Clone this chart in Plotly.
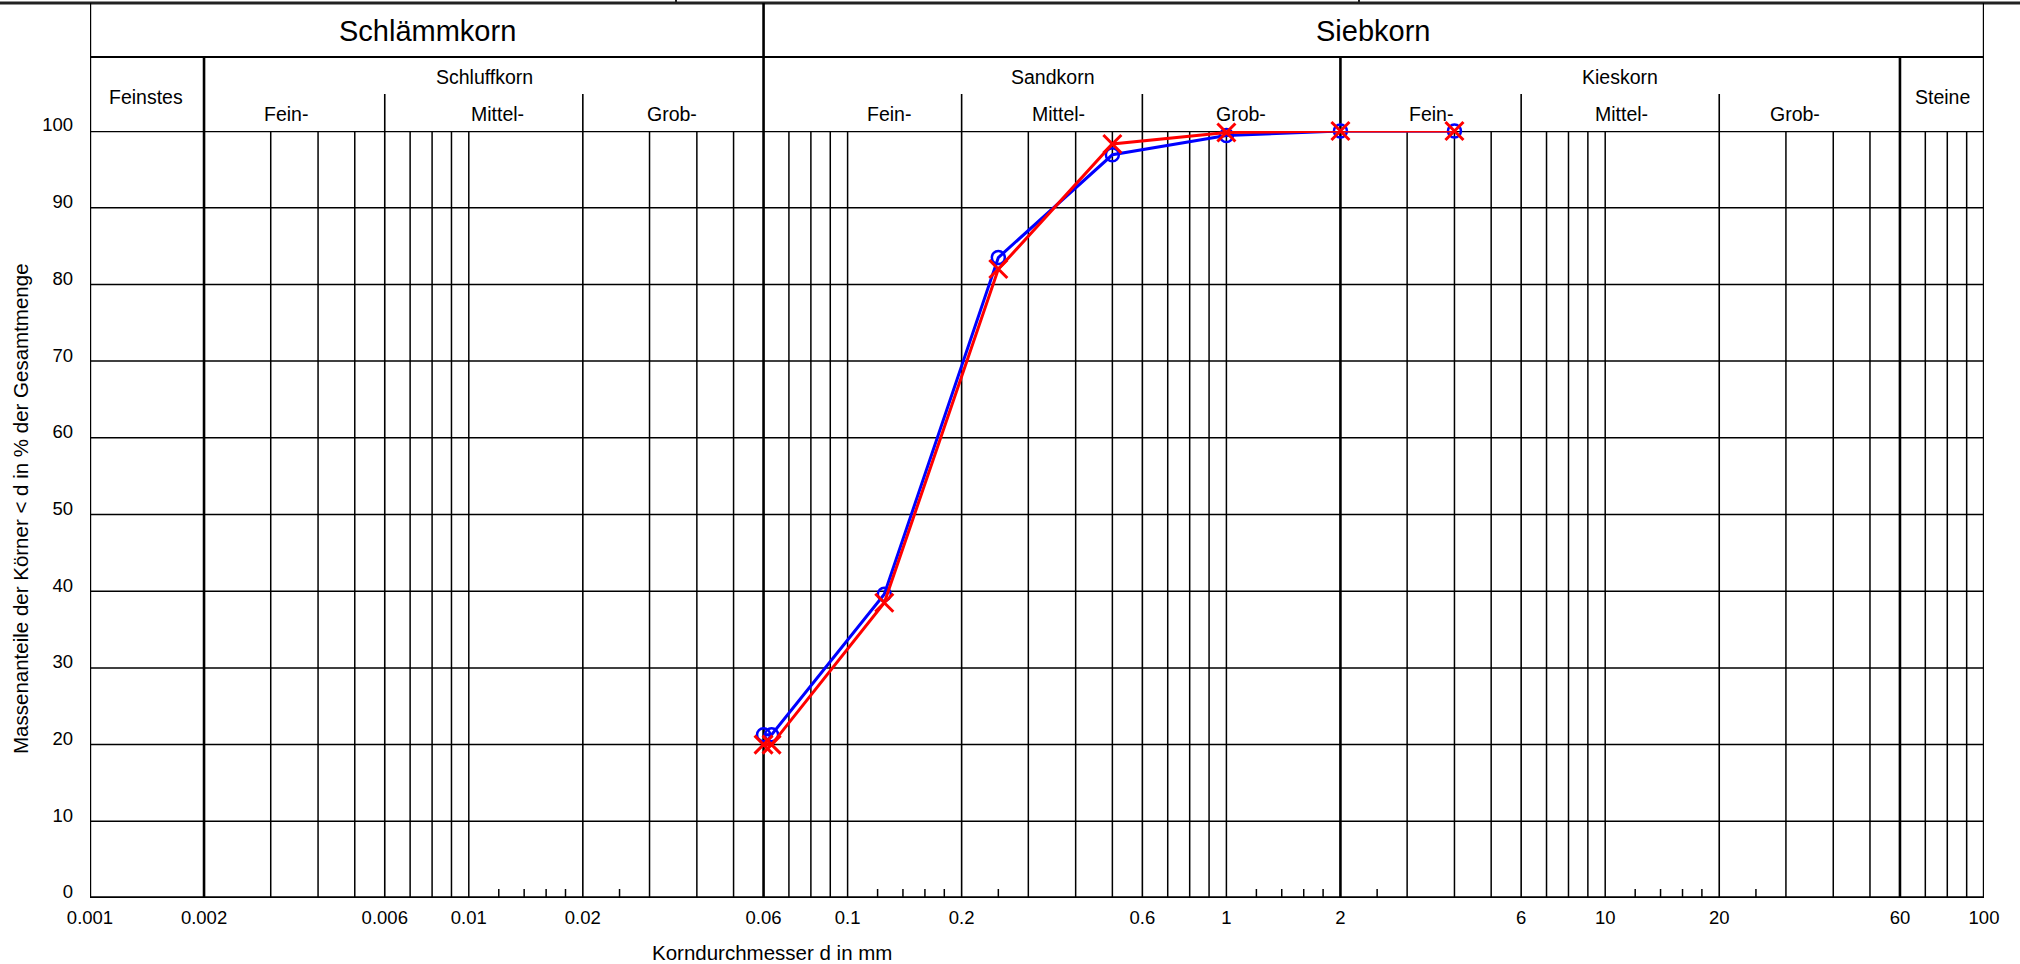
import math
import plotly.graph_objects as go

# ---------------- data ----------------
sieve_d = [0.06, 0.063, 0.125, 0.25, 0.5, 1.0, 2.0, 4.0]
blue_pass = [21.3, 21.3, 39.6, 83.5, 96.9, 99.4, 100.0, 100.0]
red_pass = [20.0, 20.0, 38.5, 82.0, 98.3, 99.8, 100.0, 100.0]

x_tick_vals = [0.001, 0.002, 0.006, 0.01, 0.02, 0.06, 0.1, 0.2, 0.6, 1, 2, 6, 10, 20, 60, 100]
x_tick_text = ["0.001", "0.002", "0.006", "0.01", "0.02", "0.06", "0.1", "0.2", "0.6",
               "1", "2", "6", "10", "20", "60", "100"]
y_tick_vals = [0, 10, 20, 30, 40, 50, 60, 70, 80, 90, 100]

grid_major = [0.002, 0.06, 2, 60]
grid_sub = [0.006, 0.02, 0.2, 0.6, 6, 20]
grid_minor = [0.003, 0.004, 0.005, 0.007, 0.008, 0.009, 0.01,
              0.03, 0.04, 0.05, 0.07, 0.08, 0.09, 0.1,
              0.3, 0.4, 0.5, 0.7, 0.8, 0.9, 1,
              3, 4, 5, 7, 8, 9, 10,
              30, 40, 50, 70, 80, 90]
short_ticks = [0.012, 0.014, 0.016, 0.018, 0.025,
               0.12, 0.14, 0.16, 0.18, 0.25,
               1.2, 1.4, 1.6, 1.8, 2.5,
               12, 14, 16, 18, 25]

main_groups = ["Schlämmkorn", "Siebkorn"]
soil_groups = ["Feinstes", "Schluffkorn", "Sandkorn", "Kieskorn", "Steine"]
sub_groups = ["Fein-", "Mittel-", "Grob-", "Fein-", "Mittel-", "Grob-", "Fein-", "Mittel-", "Grob-"]

# ---------------- layout geometry (page pixels) ----------------
W, H = 2020, 964
RL, RR, RT, RB = 90, 1984, 131, 898   # plot area
PW, PH = RR - RL, RB - RT
XMIN, XMAX = 0.001, 100
FONT = "Arial, Liberation Sans, sans-serif"


def py(p):
    """page pixel row -> paper y"""
    return (RB - p) / PH


def px(p):
    """page pixel column -> paper x"""
    return (p - RL) / PW


def d_at(p):
    """page pixel column -> grain size on the log axis"""
    return 10 ** (math.log10(XMIN) + (p - RL) / PW * (math.log10(XMAX) - math.log10(XMIN)))


shapes = []


def vline(v, ytop_px, width):
    shapes.append(dict(type="line", xref="x", yref="paper", x0=v, x1=v,
                       y0=py(RB), y1=py(ytop_px), line=dict(color="black", width=width),
                       layer="below"))


# top strip line and remnants of table above
shapes.append(dict(type="line", xref="paper", yref="paper", x0=px(0), x1=px(W),
                   y0=py(3), y1=py(3), line=dict(color="#222", width=3), layer="below"))
for tp in (676, 1359):
    shapes.append(dict(type="line", xref="paper", yref="paper", x0=px(tp), x1=px(tp),
                       y0=py(0), y1=py(3), line=dict(color="#222", width=2), layer="below"))

# vertical lines
vline(XMIN, 3, 2.4)
vline(XMAX, 3, 2.4)
vline(0.06, 3, 2.6)
for v in grid_major:
    if v != 0.06:
        vline(v, 57, 2.6)
for v in grid_sub:
    vline(v, 94, 1.6)
for v in grid_minor:
    vline(v, RT, 1.5)

# header horizontal line
shapes.append(dict(type="line", xref="x", yref="paper", x0=XMIN, x1=XMAX,
                   y0=py(57), y1=py(57), line=dict(color="black", width=2), layer="below"))

# horizontal grid lines
for v in y_tick_vals:
    if v == 0:
        continue
    shapes.append(dict(type="line", xref="x", yref="y", x0=XMIN, x1=XMAX, y0=v, y1=v,
                       line=dict(color="black", width=2.4 if v == 100 else 1.5), layer="below"))
# bottom axis line
shapes.append(dict(type="line", xref="x", yref="y", x0=XMIN, x1=XMAX, y0=0, y1=0,
                   line=dict(color="black", width=3.4), layer="below"))
# short ticks
for v in short_ticks:
    shapes.append(dict(type="line", xref="x", yref="paper", x0=v, x1=v,
                       y0=py(RB), y1=py(RB - 9), line=dict(color="black", width=1.5),
                       layer="below"))

annotations = []


def label(text, xval, ypix, size):
    annotations.append(dict(text=text, xref="x", yref="paper", x=math.log10(xval), y=py(ypix),
                            showarrow=False, xanchor="center", yanchor="middle",
                            font=dict(family=FONT, size=size, color="black")))


# main headers
label(main_groups[0], d_at(427), 31, 29)
label(main_groups[1], d_at(1373), 31, 29)
# soil groups
soil_pos = [(146, 97), (484, 77), (1052, 77), (1620, 77), (1942, 97)]
for t, (xp, yp) in zip(soil_groups, soil_pos):
    label(t, d_at(xp), yp, 19.5)
sub_pos = [286, 497, 672, 889, 1058, 1241, 1431, 1621, 1795]
for t, xp in zip(sub_groups, sub_pos):
    label(t, d_at(xp), 114, 19.5)

# axis titles as annotations
annotations.append(dict(text="Massenanteile der Körner < d in % der Gesamtmenge",
                        xref="paper", yref="paper", x=px(20), y=py(509), textangle=-90,
                        showarrow=False, xanchor="center", yanchor="middle",
                        font=dict(family=FONT, size=20.5, color="black")))
annotations.append(dict(text="Korndurchmesser d in mm", xref="paper", yref="paper",
                        x=px(772), y=py(952), showarrow=False, xanchor="center",
                        yanchor="middle", font=dict(family=FONT, size=20.5, color="black")))

fig = go.Figure()
fig.add_trace(go.Scatter(x=sieve_d, y=blue_pass, mode="lines+markers",
                         line=dict(color="#0000ff", width=3),
                         marker=dict(symbol="circle-open", size=13, color="#0000ff",
                                     line=dict(color="#0000ff", width=2.5)),
                         cliponaxis=False, showlegend=False))
fig.add_trace(go.Scatter(x=sieve_d, y=red_pass, mode="lines+markers",
                         line=dict(color="#ff0000", width=3),
                         marker=dict(symbol="x-thin", size=18, color="#ff0000",
                                     line=dict(color="#ff0000", width=3)),
                         cliponaxis=False, showlegend=False))

fig.update_layout(
    width=W, height=H, autosize=False,
    margin=dict(l=RL, r=W - RR, t=RT, b=H - RB, pad=0),
    paper_bgcolor="white", plot_bgcolor="white",
    shapes=shapes, annotations=annotations, showlegend=False,
    font=dict(family=FONT, color="black"),
    xaxis=dict(type="log", range=[math.log10(XMIN), math.log10(XMAX)],
               tickvals=x_tick_vals, ticktext=x_tick_text, showgrid=False,
               zeroline=False, showline=False, ticks="", automargin=False,
               tickfont=dict(family=FONT, size=18.5, color="black"),
               ticklabelstandoff=6),
    yaxis=dict(range=[0, 100], tickvals=y_tick_vals, showgrid=False, zeroline=False,
               showline=False, ticks="", automargin=False,
               tickfont=dict(family=FONT, size=18.5, color="black"),
               ticklabelstandoff=16, ticklabelshift=-6),
)

fig.write_html("out.html", config={"displayModeBar": False},
               post_script="document.body.style.margin='0px';document.body.style.overflow='hidden';")
